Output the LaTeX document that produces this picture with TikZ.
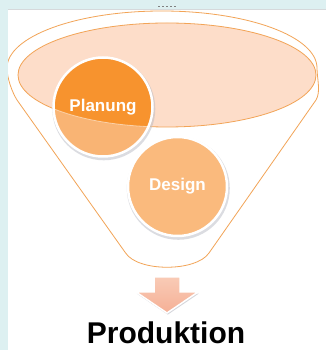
\documentclass[tikz,border=0pt]{standalone}
\usepackage{fontspec}
\setmainfont{Liberation Sans}
\definecolor{bgcyan}{HTML}{DDF0F1}
\definecolor{panelline}{HTML}{D6D9DB}
\definecolor{funnelline}{HTML}{F2A457}
\definecolor{funnelfill}{HTML}{FDDDC9}
\definecolor{darkorange}{HTML}{F7932E}
\definecolor{lightorange}{HTML}{F9B474}
\definecolor{designorange}{HTML}{FABA7D}
\definecolor{arrowtop}{HTML}{F9CBB6}
\definecolor{arrowbottom}{HTML}{F5B096}
\definecolor{shadowgray}{HTML}{B9BBC4}

\begin{document}
\begin{tikzpicture}[x=1pt, y=1pt,
        funnel/.style={draw=funnelline, line width=0.8pt, fill=white},
        bowl/.style={draw=funnelline, line width=0.8pt, fill=funnelfill},
        bubble/.style={circle, draw=white, line width=2.5pt, minimum size=99pt, inner sep=0pt, text=white, font=\fontsize{17}{20}\selectfont\bfseries},
        bubbleshadow/.style={fill=shadowgray, opacity=0.5},
        blockarrow/.style={draw=white, line width=1.5pt, line join=miter, top color=arrowtop, bottom color=arrowbottom},
        arrowshadow/.style={fill=shadowgray, opacity=0.6},
        result/.style={font=\fontsize{30}{34}\selectfont\bfseries, inner sep=0pt}
        ]
        \useasboundingbox (0,0) rectangle (326,350);

        % Background
        \fill[bgcyan] (0,0) rectangle (326,350);
        \fill[white] (8,0) rectangle (326,340);
        \draw[panelline, line width=1.2pt] (8,340.5) -- (326,340.5);
        \draw[gray, line width=0.8pt, dash pattern=on 2pt off 2pt] (158,344) -- (176,344);

        % Funnel
        \coordinate (pc) at (103,243);
        \coordinate (dc) at (177.5,163.5);
        \begin{scope}
            \clip (8,0) rectangle (326,340);
            \draw[funnel] (316,250) .. controls (321,258) and (317,272) .. (317,282)
                arc[start angle=0, end angle=180, x radius=155, y radius=57]
                .. controls (7,272) and (12,258) .. (17,250)
                -- (125.6,97) .. controls (138,78) and (196,78) .. (209,97) -- cycle;
        \end{scope}
        \draw[bowl] (167,275) ellipse [x radius=149, y radius=52];

        % Planung
        \fill[bubbleshadow] ([xshift=0.8pt, yshift=-1.8pt]pc) circle (51.5);
        \fill[lightorange] (pc) circle (49.5);
        \begin{scope}
            \clip (167,275) ellipse [x radius=149, y radius=52];
            \fill[darkorange] (pc) circle (49.5);
        \end{scope}
        \begin{scope}
            \clip (pc) circle (49.5);
            \draw[white, opacity=0.5, line width=0.8pt] (167,275) ellipse [x radius=149, y radius=52];
        \end{scope}
        \node (planung) [bubble] at (pc) {Planung};

        % Design
        \fill[bubbleshadow] ([xshift=0.8pt, yshift=-1.8pt]dc) circle (51.5);
        \node (design) [bubble, fill=designorange] at (dc) {Design};

        % Arrow and result
        \fill[arrowshadow, shift={(0.8,-1.6)}] (154,73) -- (180,73) -- (180,58) -- (198,58) -- (167,37) -- (136,58) -- (154,58) -- cycle;
        \draw[blockarrow] (154,73) -- (180,73) -- (180,58) -- (198,58) -- (167,37) -- (136,58) -- (154,58) -- cycle;
        \node (produktion) [result, anchor=base] at (166,6.5) {Produktion};

    \end{tikzpicture}
\end{document}
